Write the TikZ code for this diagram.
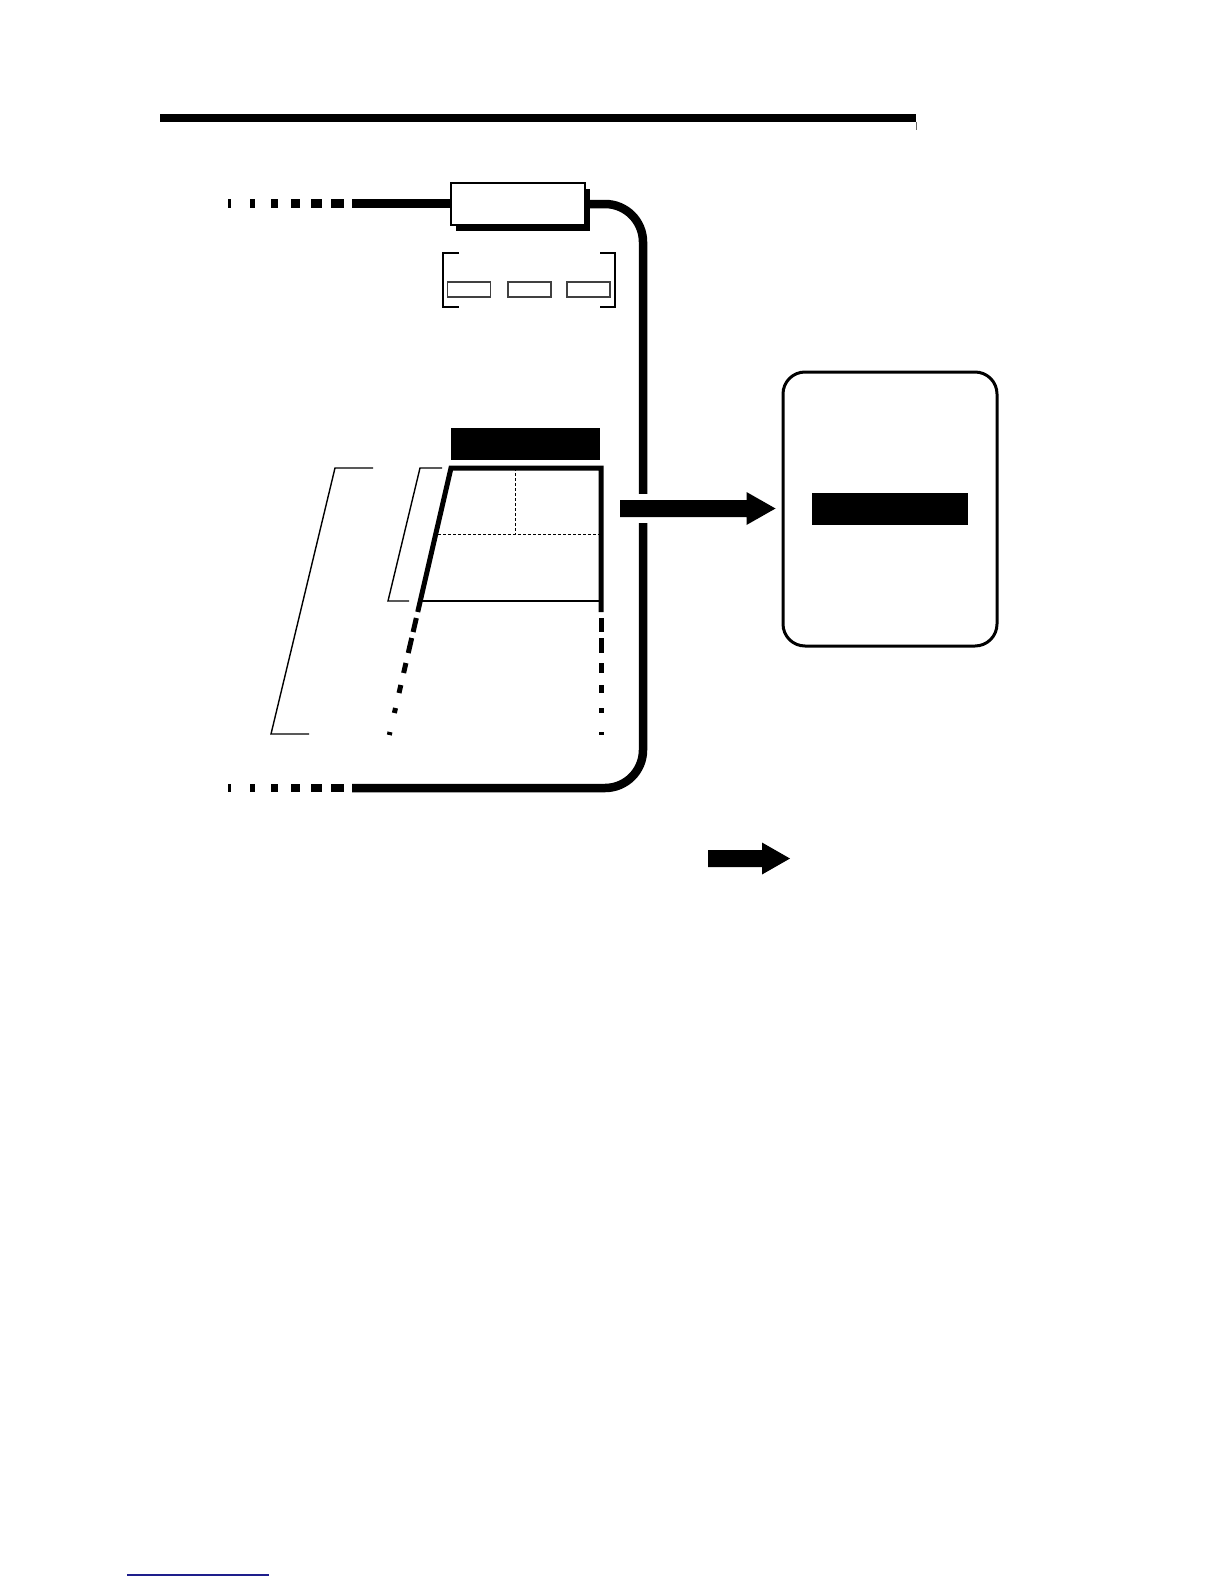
\documentclass[tikz,border=0pt]{standalone}
\usetikzlibrary{calc,shadows}
\begin{document}
\begin{tikzpicture}[x=1pt,y=-1pt,
  thinline/.style={line width=1.4pt, line cap=butt},
  rectline/.style={line width=1.1pt, draw=black!80},
  cable/.style={line width=8.5pt},
  thickedge/.style={line width=5pt, line join=miter},
  dotline/.style={line width=1pt, dash pattern=on 3pt off 2pt},
  blackbar/.style={fill=black, inner sep=0pt, outer sep=0pt},
  smallrect/.style={draw=black!75, line width=1.1pt, inner sep=0pt, minimum width=43pt, minimum height=15pt},
  cabledash/.style={cable, dash pattern=on 3pt off 19pt on 5pt off 16pt on 7pt off 13pt on 9pt off 11pt on 11pt off 9pt on 13pt off 8pt}
]
\useasboundingbox (0,0) rectangle (1224,1584);

% header rule
\coordinate (hrA) at (160,118);
\coordinate (hrB) at (916,118);
\draw[line width=8pt] (hrA) -- (hrB);
\coordinate (tickA) at (916,122);
\coordinate (tickB) at (916,130);
\draw[line width=0.8pt, black!60] (tickA) -- (tickB);

% plug box with shadow
\node[draw, fill=white, line width=2pt, inner sep=0pt, outer sep=0pt,
      minimum width=134pt, minimum height=42pt,
      drop shadow={opacity=1, fill=black, shadow xshift=5pt, shadow yshift=-6pt}]
      (plug) at (518,204) {};

% top cable
\coordinate (topEnd) at (228,203.5);
\coordinate (topSolid) at (352,203.5);
\draw[cabledash] (topEnd) -- (topSolid);
\draw[cable] (topSolid) -- (topSolid -| plug.west);

% bottom cable
\coordinate (botEnd) at (228,788);
\coordinate (botSolid) at (352,788);
\draw[cabledash] (botEnd) -- (botSolid);
\coordinate (cableX) at (643,788);
\draw[cable, rounded corners=38pt] (plug.east) -| (cableX) -- (botSolid);

% bracket group under the plug
\coordinate (bl1) at (459,253); \coordinate (bl2) at (443,253);
\coordinate (bl3) at (443,307); \coordinate (bl4) at (459,307);
\draw[thinline] (bl1) -- (bl2) -- (bl3) -- (bl4);
\coordinate (br1) at (600,253); \coordinate (br2) at (615,253);
\coordinate (br3) at (615,307); \coordinate (br4) at (600,307);
\draw[thinline] (br1) -- (br2) -- (br3) -- (br4);
\node[smallrect] (r1) at (469,289.5) {};
\node[smallrect] (r2) at (529.5,289.5) {};
\node[smallrect] (r3) at (588.5,289.5) {};

% black label above the trapezoid
\node[blackbar, minimum width=149pt, minimum height=32pt] (lbl1) at (525.5,444) {};

% trapezoid
\coordinate (tl) at (451,468);
\coordinate (tr) at (601,468);
\coordinate (lb) at ({451-0.2311*(612-468)},612);
\coordinate (rb) at (601,612);
\draw[thickedge] (lb) -- (tl) -- (tr) -- (rb);
\coordinate (bot1) at (421,601);
\coordinate (bot2) at (601,601);
\draw[thinline] (bot1) -- (bot2);
% dotted subdivisions
\coordinate (dv1) at (515,468);
\coordinate (dv2) at (515,534);
\draw[dotline] (dv1) -- (dv2);
\coordinate (dh1) at ({451-0.2311*(534-468)+2},534);
\coordinate (dh2) at (599,534);
\draw[dotline] (dh1) -- (dh2);
% dashed continuation
\foreach \a/\b in {618/632, 638/653, 663/673, 685/693, 708/713, 732/735} {
  \draw[line width=5pt] ({451-0.2311*(\a-468)},\a) -- ({451-0.2311*(\b-468)},\b);
  \draw[line width=5pt] (601,\a) -- (601,\b);
}

% inner bracket
\coordinate (ib1) at (442,468); \coordinate (ib2) at (420,468);
\coordinate (ib3) at (388,601); \coordinate (ib4) at (409,601);
\draw[thinline] (ib1) -- (ib2) -- (ib3) -- (ib4);
% outer bracket
\coordinate (ob1) at (373,468); \coordinate (ob2) at (335,468);
\coordinate (ob3) at (271,734); \coordinate (ob4) at (309,734);
\draw[thinline] (ob1) -- (ob2) -- (ob3) -- (ob4);

% rounded box on the right
\node[draw, line width=3pt, rounded corners=22pt, inner sep=0pt,
      minimum width=214pt, minimum height=274pt] (rbox) at (890,509) {};
\node[blackbar, minimum width=156pt, minimum height=32pt] (lbl2) at (890,509) {};

% big arrow into the box
\coordinate (arA) at (620,508.5);
\coordinate (arB) at ($(rbox.west)+(-6,-0.5)$);
\draw[white, line width=29pt] (arA) -- ($(arB)+(-29,0)$);
\fill ($(arA)+(0,-8.5)$) -- ($(arB)+(-29,-8.5)$) -- ($(arB)+(-29,-16.5)$) -- (arB)
      -- ($(arB)+(-29,16.5)$) -- ($(arB)+(-29,8.5)$) -- ($(arA)+(0,8.5)$) -- cycle;

% legend arrow
\coordinate (lgA) at (708,858.5);
\coordinate (lgB) at (790,858.5);
\fill ($(lgA)+(0,-8.5)$) -- ($(lgB)+(-28,-8.5)$) -- ($(lgB)+(-28,-16)$) -- (lgB)
      -- ($(lgB)+(-28,16)$) -- ($(lgB)+(-28,8.5)$) -- ($(lgA)+(0,8.5)$) -- cycle;

% footer link underline
\coordinate (ftA) at (127,1575);
\coordinate (ftB) at (269,1575);
\draw[line width=1.2pt, color={rgb,255:red,30;green,30;blue,140}] (ftA) -- (ftB);
\end{tikzpicture}
\end{document}
